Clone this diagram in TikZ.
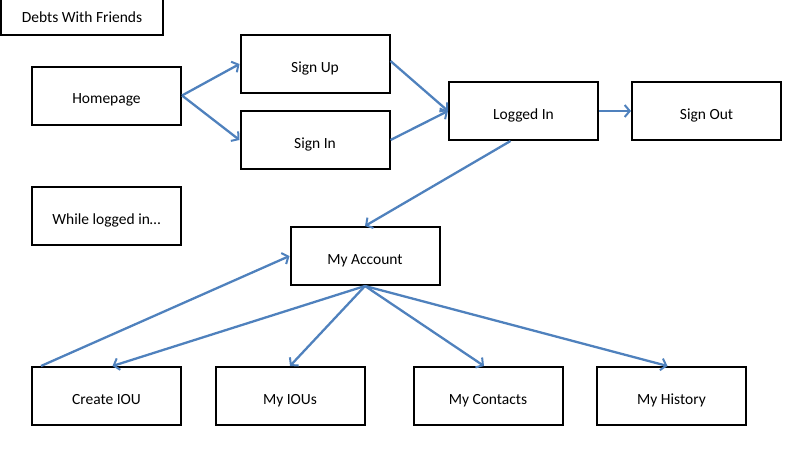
\documentclass[tikz,border=0pt]{standalone}
\usepackage{fontspec}
\setmainfont{Carlito}
\usetikzlibrary{arrows.meta}
\definecolor{arrowblue}{RGB}{79,129,189}
\begin{document}
\begin{tikzpicture}[x=1pt,y=-1pt,
  pagebox/.style={draw=black,line width=2pt,rectangle,minimum width=149pt,minimum height=58pt,inner sep=0pt,text height=16pt,text depth=0pt,font=\fontsize{15.5}{18}\selectfont},
  flow/.style={draw=arrowblue,line width=2.3pt,-{Straight Barb[length=5pt,width=12pt,line width=2pt]}}]
\useasboundingbox (0,0) rectangle (798,463);
\node[pagebox,minimum width=162pt,minimum height=36pt,text height=11.5pt] (title) at (82,17) {Debts With Friends};
\node[pagebox] (home) at (106.5,95.5) {Homepage};
\node[pagebox] (signup) at (315,64) {Sign Up};
\node[pagebox] (signin) at (315,140) {Sign In};
\node[pagebox] (logged) at (523.5,111) {Logged In};
\node[pagebox] (signout) at (706.5,111) {Sign Out};
\node[pagebox] (while) at (106.5,216) {While logged in\dots};
\node[pagebox] (account) at (365,256) {My Account};
\node[pagebox] (create) at (106.5,396) {Create IOU};
\node[pagebox] (ious) at (290,396) {My IOUs};
\node[pagebox] (contacts) at (488,396) {My Contacts};
\node[pagebox] (history) at (671.5,396) {My History};
\draw[flow] (home.east) -- (signup.west);
\draw[flow] (home.east) -- (signin.west);
\draw[flow] ([yshift=3pt]signup.east) -- (logged.west);
\draw[flow] (signin.east) -- (logged.west);
\draw[flow] (logged.east) -- (signout.west);
\draw[flow] ([xshift=-13pt]logged.south) -- (account.north);
\draw[flow] ([xshift=10pt]create.north west) -- (account.west);
\draw[flow] (account.south) -- ([xshift=6pt]create.north);
\draw[flow] (account.south) -- (ious.north);
\draw[flow] (account.south) -- ([xshift=-4pt]contacts.north);
\draw[flow] (account.south) -- ([xshift=-4pt]history.north);
\end{tikzpicture}
\end{document}
